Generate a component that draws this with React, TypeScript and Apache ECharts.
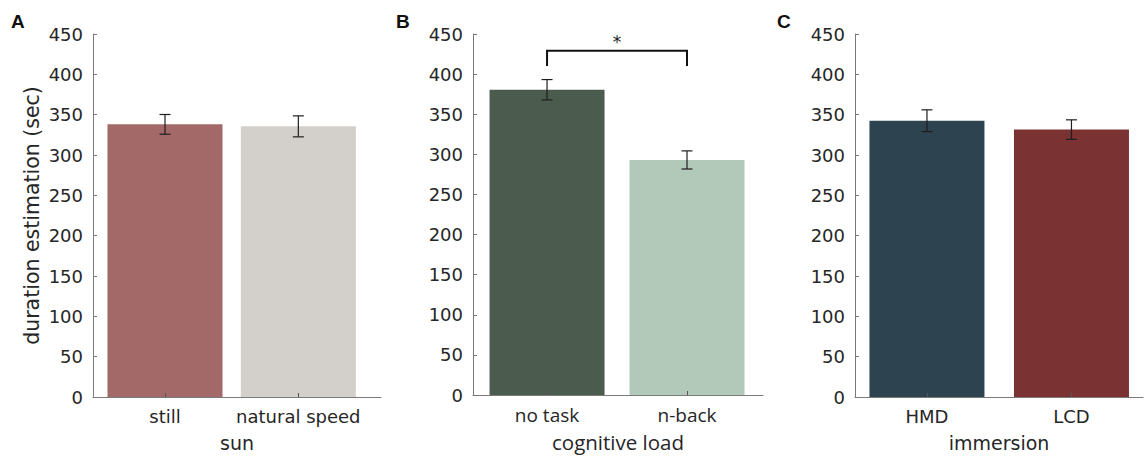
import React, { useEffect, useRef } from "react";
import * as echarts from "echarts";

// ---- data ----
const categoriesA = ["still", "natural speed"];
const meansA = [338, 335.5];
const errorsA = [12.2, 13];
const colorsA = ["#a36868", "#d3cfcb"];

const categoriesB = ["no task", "n-back"];
const meansB = [380.5, 293];
const errorsB = [12.7, 11.3];
const colorsB = ["#4b5c4f", "#b2c8b9"];

const categoriesC = ["HMD", "LCD"];
const meansC = [342.5, 331.5];
const errorsC = [13.5, 12.1];
const colorsC = ["#2e4350", "#7b3232"];

const xNames = ["sun", "cognitive load", "immersion"];
const panelLetters = ["A", "B", "C"];
const yTicks = [0, 450, 50]; // min, max, step
const yTitle = "duration estimation (sec)";

// significance bracket in panel B: [from category, to category, base value, top value]
const sigBracket = [1, 2, 410, 429];
const sigLabel = "*";

const TEXT = "#262626";
const AXIS = "#7a7a7a";

const panels = [
  { cats: categoriesA, means: meansA, errs: errorsA, colors: colorsA, left: 93, width: 288, min: 0.46, max: 2.62, labelFont: "DejaVu Sans", labelSize: 18, nameSize: 19 },
  { cats: categoriesB, means: meansB, errs: errorsB, colors: colorsB, left: 473, width: 290, min: 0.471, max: 2.543, labelFont: "Open Sans", labelSize: 19, nameSize: 20.5 },
  { cats: categoriesC, means: meansC, errs: errorsC, colors: colorsC, left: 855, width: 288, min: 0.502, max: 2.495, labelFont: "DejaVu Sans", labelSize: 18, nameSize: 19 },
];

export default function App() {
  const ref = useRef<HTMLDivElement>(null);
  useEffect(() => {
    if (!ref.current) return;
    const chart = echarts.init(ref.current, undefined, { renderer: "svg" });
    const idx = [1, 2];
    const option: any = {
      animation: false,
      backgroundColor: "#ffffff",
      textStyle: { fontFamily: "DejaVu Sans" },
      grid: panels.map((p) => ({ left: p.left, width: p.width, top: 34, height: 366 })),
      xAxis: panels.map((p, i) => ({
        gridIndex: i,
        type: "value",
        min: p.min,
        max: p.max,
        z: 5,
        axisLine: { show: true, onZero: false, lineStyle: { color: AXIS, width: 1 } },
        splitLine: { show: false },
        axisTick: { show: true, inside: true, length: 4, customValues: idx, lineStyle: { color: "#555" } },
        axisLabel: {
          customValues: idx,
          formatter: (v: number) => p.cats[Math.round(v) - 1] ?? "",
          fontSize: p.labelSize,
          fontFamily: p.labelFont,
          color: TEXT,
          margin: 10,
        },
        name: xNames[i],
        nameLocation: "middle",
        nameGap: 36,
        nameTextStyle: { fontSize: p.nameSize, fontFamily: p.labelFont, color: TEXT },
      })),
      yAxis: panels.map((p, i) => ({
        gridIndex: i,
        type: "value",
        min: yTicks[0],
        max: yTicks[1],
        interval: yTicks[2],
        axisLine: { show: true, lineStyle: { color: AXIS, width: 1 } },
        splitLine: { show: false },
        axisTick: { show: true, inside: true, length: 4, lineStyle: { color: AXIS } },
        axisLabel: { fontSize: 18, color: TEXT, margin: 10, fontFamily: "DejaVu Sans" },
        ...(i === 0
          ? {
              name: yTitle,
              nameLocation: "middle",
              nameGap: 51,
              nameTextStyle: { fontSize: 20.5, color: TEXT, fontFamily: "DejaVu Sans" },
            }
          : {}),
      })),
      series: [
        ...panels.map((p, i) => ({
          type: "bar",
          xAxisIndex: i,
          yAxisIndex: i,
          barWidth: 115,
          z: 2,
          data: p.means.map((m, j) => ({ value: [j + 1, m], itemStyle: { color: p.colors[j] } })),
        })),
        ...panels.map((p, i) => ({
          type: "custom",
          xAxisIndex: i,
          yAxisIndex: i,
          z: 6,
          encode: { x: 0, y: 1 },
          data: p.means.map((m, j) => [j + 1, m, p.errs[j]]),
          renderItem: (params: any, api: any) => {
            const x = api.value(0);
            const m = api.value(1);
            const e = api.value(2);
            const t = api.coord([x, m + e]);
            const b = api.coord([x, m - e]);
            const c = 5.5;
            const st = { stroke: "#1e1e1e", lineWidth: 1.2 };
            return {
              type: "group",
              children: [
                { type: "line", shape: { x1: t[0], y1: t[1], x2: b[0], y2: b[1] }, style: st },
                { type: "line", shape: { x1: t[0] - c, y1: t[1], x2: t[0] + c, y2: t[1] }, style: st },
                { type: "line", shape: { x1: b[0] - c, y1: b[1], x2: b[0] + c, y2: b[1] }, style: st },
              ],
            };
          },
        })),
        {
          type: "custom",
          xAxisIndex: 1,
          yAxisIndex: 1,
          z: 6,
          encode: { x: [0, 1], y: [2, 3] },
          data: [sigBracket],
          renderItem: (params: any, api: any) => {
            const x1 = api.value(0);
            const x2 = api.value(1);
            const y0 = api.value(2);
            const y1 = api.value(3);
            const a = api.coord([x1, y0]);
            const b = api.coord([x1, y1]);
            const c = api.coord([x2, y1]);
            const d = api.coord([x2, y0]);
            return {
              type: "group",
              children: [
                {
                  type: "polyline",
                  shape: { points: [a, b, c, d] },
                  style: { stroke: "#111", lineWidth: 2, fill: "none" },
                },
                {
                  type: "text",
                  x: (b[0] + c[0]) / 2,
                  y: b[1] - 9,
                  style: { text: sigLabel, fontSize: 17, fill: "#222", align: "center", verticalAlign: "middle", fontFamily: "DejaVu Sans" },
                },
              ],
            };
          },
        },
      ],
      graphic: panelLetters.map((L, i) => ({
        type: "text",
        left: [11, 396, 777][i],
        top: 12,
        style: { text: L, fontSize: 19, fontWeight: "bold", fill: "#111", fontFamily: "Liberation Sans" },
      })),
    };
    chart.setOption(option);
    return () => chart.dispose();
  }, []);
  return <div ref={ref} style={{ position: "fixed", left: 0, top: 0, width: 1147, height: 457 }} />;
}
